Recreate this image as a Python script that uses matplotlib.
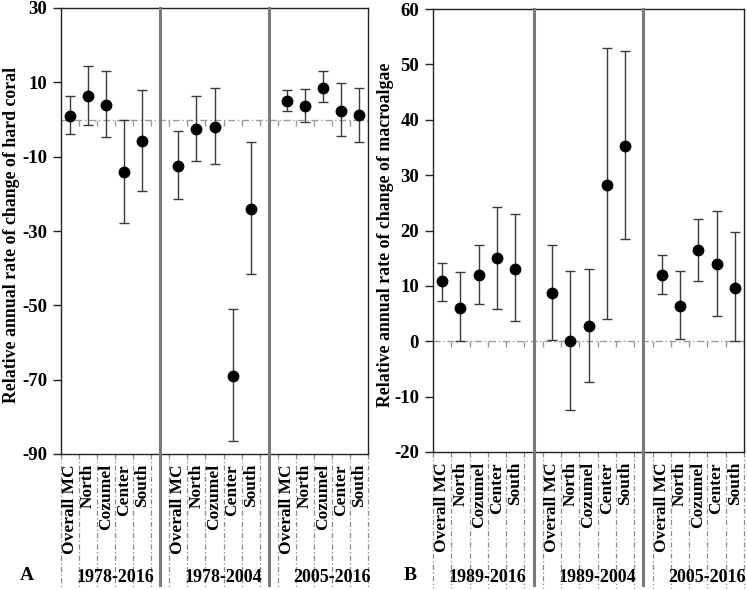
import numpy as np
import matplotlib
matplotlib.use("Agg")
import matplotlib.pyplot as plt
from matplotlib.transforms import blended_transform_factory

plt.rcParams['font.family'] = ['Liberation Serif', 'DejaVu Serif']
plt.rcParams['font.weight'] = 'bold'

regions = ["Overall MC", "North", "Cozumel", "Center", "South"]

# Panel A: hard coral
coral_periods = ["1978-2016", "1978-2004", "2005-2016"]
coral_vals = [[0.9, 6.3, 3.9, -14.2, -5.9],
              [-12.5, -2.5, -1.9, -68.9, -24.0],
              [5.1, 3.6, 8.5, 2.4, 1.2]]
coral_low = [[-3.9, -1.6, -4.7, -27.9, -19.2],
             [-21.5, -11.2, -11.9, -86.4, -41.6],
             [2.4, -0.6, 4.6, -4.4, -6.0]]
coral_high = [[6.3, 14.5, 13.1, 0.0, 7.9],
              [-3.1, 6.4, 8.5, -51.1, -6.0],
              [7.9, 8.2, 13.1, 9.7, 8.5]]
coral_ticks = [30, 10, -10, -30, -50, -70, -90]

# Panel B: macroalgae
algae_periods = ["1989-2016", "1989-2004", "2005-2016"]
algae_vals = [[10.8, 6.0, 11.9, 15.0, 13.1],
              [8.7, 0.0, 2.8, 28.2, 35.3],
              [12.0, 6.4, 16.4, 14.0, 9.7]]
algae_low = [[7.3, 0.0, 6.7, 5.8, 3.7],
             [0.2, -12.5, -7.4, 4.0, 18.5],
             [8.5, 0.4, 10.9, 4.6, 0.0]]
algae_high = [[14.2, 12.5, 17.3, 24.3, 22.9],
              [17.3, 12.6, 13.0, 52.9, 52.4],
              [15.6, 12.7, 22.1, 23.5, 19.7]]
algae_ticks = [60, 50, 40, 30, 20, 10, 0, -10, -20]

W, H = 747, 590
fig = plt.figure(figsize=(W / 100, H / 100), dpi=100)


def px_axes(l, t, r, b):
    return fig.add_axes([l / W, (H - b) / H, (r - l) / W, (b - t) / H])


def draw_panel(ax, vals, low, high, ticks, ylabel, periods, letter,
               ax_px, ylabel_x, letter_x):
    l, t, r, b = ax_px
    hpx = b - t
    n = len(regions)
    step = n + 1
    for g in range(len(periods)):
        x = np.arange(n) + g * step
        v = np.array(vals[g])
        lo = np.array(low[g])
        hi = np.array(high[g])
        ax.errorbar(x, v, yerr=[v - lo, hi - v], fmt='o', color='black',
                    ms=7.5, ecolor='#3a3a3a', elinewidth=1.0, capsize=3.5,
                    capthick=1.0, zorder=5)
    ax.set_xlim(-0.5, len(periods) * step - 1.5)
    ax.set_ylim(min(ticks), max(ticks))
    ax.set_yticks(ticks)
    ax.set_yticklabels([str(tk) for tk in ticks], fontsize=13.5, fontweight='bold')
    ax.tick_params(axis='y', direction='out', length=6, width=1, pad=4,
                   color='#222222')
    ax.set_xticks([])
    for s in ax.spines.values():
        s.set_color('#222222')
        s.set_linewidth(1.0)

    # zero line with small ticks at category boundaries
    ax.axhline(0, color='#9a9a9a', lw=1.0, ls=(0, (5, 2, 1, 2)), zorder=1)
    bounds = []
    for g in range(len(periods)):
        bounds += list(np.arange(n + 1) - 0.5 + g * step)
    ax.plot(bounds, [0] * len(bounds), ls='none', marker=3, ms=4,
            mec='#9a9a9a', mew=1.0, zorder=1)

    tr = blended_transform_factory(ax.transData, ax.transAxes)
    # thick separators between periods
    sep_bottom = -(585 - b) / hpx
    for g in range(1, len(periods)):
        xs = g * step - 1
        ax.plot([xs, xs], [1, sep_bottom], transform=tr, color='#7a7a7a',
                lw=2.2, clip_on=False, zorder=6)
    # dash-dot dividers in label area
    div_bottom = -(588 - b) / hpx
    for xb in bounds:
        ax.plot([xb, xb], [0, div_bottom], transform=tr, color='#8a8a8a',
                lw=0.9, ls=(0, (4, 2, 1, 2)), clip_on=False)
    # category labels
    lab_top = -10 / hpx
    for g in range(len(periods)):
        for i, name in enumerate(regions):
            ax.text(i + g * step, lab_top, name, transform=tr, rotation=90,
                    ha='center', va='top', fontsize=12.5, fontweight='bold')
        ax.text(g * step + 2.5, -(577 - b) / hpx, periods[g], transform=tr,
                ha='center', va='center', fontsize=13, fontweight='bold')
    # y label and panel letter
    fig.text(ylabel_x / W, 1 - ((t + b) / 2 + 4) / H, ylabel, rotation=90,
             ha='center', va='center', fontsize=12.8, fontweight='bold')
    fig.text(letter_x / W, 1 - 576 / H, letter, ha='center', va='center',
             fontsize=14, fontweight='bold')


axA_px = (61, 8, 368, 454)
axB_px = (433, 9, 744, 452)
axA = px_axes(*axA_px)
axB = px_axes(*axB_px)

draw_panel(axA, coral_vals, coral_low, coral_high, coral_ticks,
           "Relative annual rate of change of hard coral", coral_periods, "A",
           axA_px, 12, 27)
draw_panel(axB, algae_vals, algae_low, algae_high, algae_ticks,
           "Relative annual rate of change of macroalgae", algae_periods, "B",
           axB_px, 385, 410)

fig.savefig("out.png", dpi=100)
